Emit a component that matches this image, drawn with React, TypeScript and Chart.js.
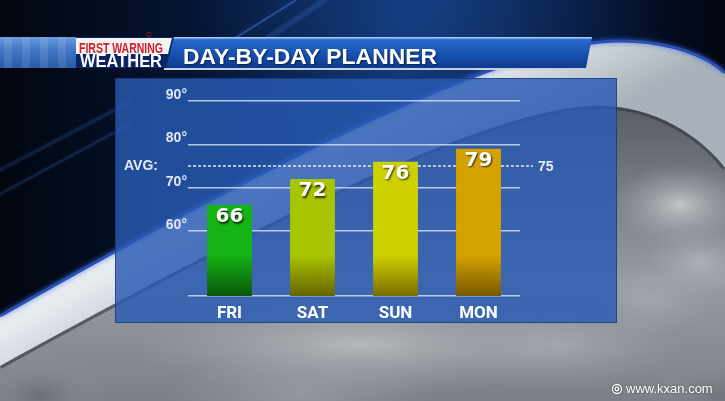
import React, { useEffect, useRef } from 'react';
import { Chart, registerables } from 'chart.js';

Chart.register(...registerables);

// ---------- data ----------
const DAYS = ['FRI', 'SAT', 'SUN', 'MON'];
const HIGHS = [66, 72, 76, 79];
const AVG_HIGH = 75;
const Y_MIN = 45;
const Y_MAX = 90;
const GRID_TICKS = [45, 60, 70, 80, 90];
const BAR_TOP_COLORS = ['#14b414', '#a9c400', '#cfd000', '#d6a200'];
const BAR_BOTTOM_COLORS = ['#0a560a', '#676400', '#7c6c00', '#785800'];
const TITLE = 'DAY-BY-DAY PLANNER';
const BRAND_TOP = 'FIRST WARNING';
const BRAND_BOTTOM = 'WEATHER';
const AVG_LABEL = 'AVG:';
const WATERMARK = 'www.kxan.com';

const W = 725;
const H = 401;
const SANS = "'Liberation Sans', Arial, sans-serif";
const NARROW = "'Liberation Sans Narrow', 'Roboto', 'Liberation Sans', Arial, sans-serif";

function fitText(ctx: CanvasRenderingContext2D, text: string, x: number, baseline: number, width: number, font: string) {
  ctx.font = font;
  const w = ctx.measureText(text).width;
  ctx.save();
  ctx.translate(x, baseline);
  ctx.scale(width / w, 1);
  ctx.textAlign = 'left';
  ctx.textBaseline = 'alphabetic';
  ctx.fillText(text, 0, 0);
  ctx.restore();
}

function outerCurve(ctx: CanvasRenderingContext2D) {
  ctx.moveTo(0, 316);
  ctx.bezierCurveTo(200, 202, 470, 55, 600, 42);
  ctx.bezierCurveTo(650, 37, 700, 50, 725, 73);
}
function innerCurve(ctx: CanvasRenderingContext2D) {
  ctx.moveTo(0, 366);
  ctx.bezierCurveTo(200, 256, 470, 112, 590, 106);
  ctx.bezierCurveTo(650, 103, 700, 135, 725, 168);
}

function puff(ctx: CanvasRenderingContext2D, x: number, y: number, r: number, color: string, sy = 0.6) {
  ctx.save();
  ctx.translate(x, y);
  ctx.scale(1, sy);
  const g = ctx.createRadialGradient(0, 0, 0, 0, 0, r);
  g.addColorStop(0, color);
  g.addColorStop(1, 'rgba(160,166,172,0)');
  ctx.fillStyle = g;
  ctx.beginPath();
  ctx.arc(0, 0, r, 0, Math.PI * 2);
  ctx.fill();
  ctx.restore();
}

function drawBackground(ctx: CanvasRenderingContext2D) {
  let g = ctx.createLinearGradient(0, 0, W, 0);
  g.addColorStop(0, '#02060f');
  g.addColorStop(0.3, '#051636');
  g.addColorStop(0.55, '#0a2858');
  g.addColorStop(0.8, '#041331');
  g.addColorStop(1, '#020610');
  ctx.fillStyle = g;
  ctx.fillRect(0, 0, W, H);
  const rg = ctx.createRadialGradient(430, 0, 0, 430, 0, 240);
  rg.addColorStop(0, 'rgba(40,100,200,0.4)');
  rg.addColorStop(1, 'rgba(40,100,200,0)');
  ctx.fillStyle = rg;
  ctx.fillRect(0, 0, W, H);

  const streak = (x1: number, y1: number, x2: number, y2: number, w: number, a: number) => {
    ctx.save();
    ctx.strokeStyle = `rgba(80,140,235,${a})`;
    ctx.lineWidth = w;
    ctx.lineCap = 'round';
    ctx.shadowColor = 'rgba(60,120,230,0.6)';
    ctx.shadowBlur = 5;
    ctx.beginPath();
    ctx.moveTo(x1, y1);
    ctx.lineTo(x2, y2);
    ctx.stroke();
    ctx.restore();
  };
  streak(200, 60, 296, 0, 1.5, 0.45);
  streak(235, 60, 325, 0, 6, 0.14);
  streak(130, 102, 0, 170, 4, 0.14);
  streak(130, 124, 0, 194, 3, 0.16);

  // silver band
  ctx.save();
  ctx.beginPath();
  outerCurve(ctx);
  ctx.lineTo(W, H);
  ctx.lineTo(0, H);
  ctx.closePath();
  g = ctx.createLinearGradient(330, 150, 380, 240);
  g.addColorStop(0, '#e6ebf0');
  g.addColorStop(1, '#a9b1ba');
  ctx.fillStyle = g;
  ctx.fill();
  ctx.restore();

  // clouds
  ctx.save();
  ctx.beginPath();
  innerCurve(ctx);
  ctx.lineTo(W, H);
  ctx.lineTo(0, H);
  ctx.closePath();
  g = ctx.createLinearGradient(0, 100, 0, H);
  g.addColorStop(0, '#565b62');
  g.addColorStop(0.6, '#979ca2');
  g.addColorStop(1, '#7b8087');
  ctx.fillStyle = g;
  ctx.fill();
  ctx.clip();
  puff(ctx, 680, 205, 70, 'rgba(212,215,219,0.8)');
  puff(ctx, 700, 262, 60, 'rgba(188,192,197,0.65)');
  puff(ctx, 650, 300, 60, 'rgba(175,180,186,0.55)');
  puff(ctx, 360, 345, 230, 'rgba(188,192,196,0.85)', 0.22);
  puff(ctx, 560, 345, 130, 'rgba(178,182,187,0.6)', 0.35);
  puff(ctx, 300, 395, 140, 'rgba(170,174,179,0.5)', 0.3);
  puff(ctx, 40, 395, 70, 'rgba(95,100,108,0.6)');
  puff(ctx, 720, 395, 80, 'rgba(100,105,112,0.45)');
  ctx.strokeStyle = 'rgba(50,55,62,0.6)';
  ctx.lineWidth = 6;
  ctx.beginPath();
  innerCurve(ctx);
  ctx.stroke();
  ctx.restore();

  ctx.save();
  ctx.beginPath();
  outerCurve(ctx);
  ctx.strokeStyle = '#2a4fb0';
  ctx.lineWidth = 3;
  ctx.shadowColor = 'rgba(60,110,230,0.9)';
  ctx.shadowBlur = 5;
  ctx.stroke();
  ctx.restore();
}

function drawHeader(ctx: CanvasRenderingContext2D) {
  const top = 37;
  const bot = 68;
  let g = ctx.createLinearGradient(0, top, 0, bot);
  g.addColorStop(0, '#6a9ade');
  g.addColorStop(0.45, '#3f74c4');
  g.addColorStop(1, '#2a5aa8');
  ctx.fillStyle = g;
  ctx.fillRect(0, top, 78, bot - top);
  ctx.fillStyle = 'rgba(255,255,255,0.1)';
  for (let x = 4; x < 76; x += 18) ctx.fillRect(x, top, 8, bot - top);

  ctx.beginPath();
  ctx.moveTo(168, top);
  ctx.lineTo(592, top);
  ctx.lineTo(586, bot);
  ctx.lineTo(164, bot);
  ctx.closePath();
  g = ctx.createLinearGradient(0, top, 0, bot);
  g.addColorStop(0, '#4d8ae0');
  g.addColorStop(0.12, '#2466c8');
  g.addColorStop(0.55, '#1852b2');
  g.addColorStop(1, '#0d3a8c');
  ctx.fillStyle = g;
  ctx.fill();
  ctx.fillStyle = 'rgba(190,215,250,0.8)';
  ctx.fillRect(168, top, 424, 1.5);
  ctx.fillStyle = '#c7d0dc';
  ctx.fillRect(164, bot, 420, 2);

  ctx.beginPath();
  ctx.moveTo(76, top);
  ctx.lineTo(174, top);
  ctx.lineTo(166, bot);
  ctx.lineTo(76, bot);
  ctx.closePath();
  ctx.fillStyle = '#0b2564';
  ctx.fill();
  ctx.beginPath();
  ctx.moveTo(76, top + 1);
  ctx.lineTo(172, top + 1);
  ctx.lineTo(168, 54);
  ctx.lineTo(76, 54);
  ctx.closePath();
  ctx.fillStyle = '#f4f4f4';
  ctx.fill();
  ctx.fillStyle = '#d11f2a';
  fitText(ctx, BRAND_TOP, 79, 52.5, 84, `bold 14px ${SANS}`);
  ctx.strokeStyle = 'rgba(209,31,42,0.8)';
  ctx.lineWidth = 1;
  ctx.beginPath();
  ctx.arc(149, 34.5, 2.2, 0.3, Math.PI * 1.9);
  ctx.stroke();
  ctx.fillStyle = '#ffffff';
  fitText(ctx, BRAND_BOTTOM, 80, 67, 82, `bold 19px ${SANS}`);

  ctx.save();
  ctx.shadowColor = 'rgba(0,10,40,0.7)';
  ctx.shadowOffsetX = 1;
  ctx.shadowOffsetY = 1;
  ctx.shadowBlur = 2;
  ctx.fillStyle = '#ffffff';
  fitText(ctx, TITLE, 183, 63.5, 254, `bold 22px ${SANS}`);
  ctx.restore();
}

function drawPanel(ctx: CanvasRenderingContext2D) {
  ctx.save();
  ctx.fillStyle = 'rgba(40,90,178,0.82)';
  ctx.fillRect(115, 78, 502, 245);
  ctx.strokeStyle = 'rgba(20,45,100,0.6)';
  ctx.lineWidth = 1;
  ctx.strokeRect(115.5, 78.5, 501, 244);
  ctx.restore();
}

const tvPlugin = {
  id: 'tvGraphic',
  beforeDraw(chart: any) {
    const ctx = chart.ctx as CanvasRenderingContext2D;
    ctx.save();
    drawBackground(ctx);
    drawHeader(ctx);
    drawPanel(ctx);
    ctx.restore();
  },
  afterDatasetsDraw(chart: any) {
    const ctx = chart.ctx as CanvasRenderingContext2D;
    const y = chart.scales.y;
    const area = chart.chartArea;
    const ay = y.getPixelForValue(AVG_HIGH);
    ctx.save();
    ctx.strokeStyle = 'rgba(235,240,250,0.95)';
    ctx.lineWidth = 1.5;
    ctx.setLineDash([3, 2]);
    const meta = chart.getDatasetMeta(0);
    const segs: [number, number][] = [];
    let start = area.left;
    meta.data.forEach((bar: any) => {
      const half = bar.width / 2;
      if (bar.y < ay) {
        segs.push([start, bar.x - half]);
        start = bar.x + half;
      }
    });
    segs.push([start, area.right + 13]);
    ctx.beginPath();
    segs.forEach(([a, b]) => {
      ctx.moveTo(a, ay);
      ctx.lineTo(b, ay);
    });
    ctx.stroke();
    ctx.setLineDash([]);
    ctx.fillStyle = '#e4ecf8';
    ctx.font = `bold 14px ${SANS}`;
    ctx.textBaseline = 'middle';
    ctx.textAlign = 'left';
    ctx.fillText(AVG_LABEL, 124, ay);
    ctx.fillText(String(AVG_HIGH), area.right + 18, ay + 1);

    ctx.shadowColor = 'rgba(0,0,0,0.75)';
    ctx.shadowOffsetX = 1;
    ctx.shadowOffsetY = 1.5;
    ctx.shadowBlur = 2;
    ctx.fillStyle = '#ffffff';
    ctx.font = `bold 20px 'DejaVu Sans', sans-serif`;
    ctx.textAlign = 'center';
    meta.data.forEach((bar: any, i: number) => {
      ctx.fillText(String(HIGHS[i]), bar.x, bar.y + 12);
    });
    ctx.restore();

    ctx.save();
    ctx.fillStyle = '#ffffff';
    ctx.shadowColor = 'rgba(0,0,0,0.5)';
    ctx.shadowBlur = 2;
    ctx.font = `13px ${SANS}`;
    ctx.textBaseline = 'middle';
    ctx.textAlign = 'left';
    ctx.fillText(WATERMARK, 626, 389);
    ctx.strokeStyle = '#ffffff';
    ctx.lineWidth = 1.3;
    ctx.beginPath();
    ctx.arc(617, 389, 4.5, 0, Math.PI * 2);
    ctx.stroke();
    ctx.beginPath();
    ctx.arc(617, 389, 1.8, 0, Math.PI * 2);
    ctx.stroke();
    ctx.restore();
  },
};

export default function App() {
  const ref = useRef<HTMLCanvasElement | null>(null);
  useEffect(() => {
    document.body.style.margin = '0';
    const canvas = ref.current;
    if (!canvas) return;
    const chart = new Chart(canvas, {
      type: 'bar',
      data: {
        labels: DAYS,
        datasets: [
          {
            data: HIGHS,
            barPercentage: 0.54,
            categoryPercentage: 1,
            borderWidth: 0,
            backgroundColor: (c: any) => {
              const chart = c.chart;
              const area = chart.chartArea;
              const i = c.dataIndex;
              if (!area || i === undefined) return BAR_TOP_COLORS[0];
              const y0 = chart.scales.y.getPixelForValue(54.5);
              const g = chart.ctx.createLinearGradient(0, y0, 0, area.bottom);
              g.addColorStop(0, BAR_TOP_COLORS[i]);
              g.addColorStop(1, BAR_BOTTOM_COLORS[i]);
              return g;
            },
          },
        ],
      },
      options: {
        animation: false,
        responsive: false,
        maintainAspectRatio: false,
        devicePixelRatio: 1,
        layout: { padding: { top: 101, right: 205, left: 0, bottom: 0 } },
        plugins: { legend: { display: false }, tooltip: { enabled: false } },
        scales: {
          x: {
            grid: { display: false, drawTicks: false },
            border: { display: false },
            ticks: {
              color: '#ffffff',
              font: { family: NARROW, weight: 'bold', size: 17 },
              padding: 8,
            },
            afterFit: (s: any) => {
              s.height = 105;
            },
          },
          y: {
            min: Y_MIN,
            max: Y_MAX,
            afterBuildTicks: (s: any) => {
              s.ticks = GRID_TICKS.map((v) => ({ value: v }));
            },
            grid: { color: 'rgba(205,222,245,0.85)', lineWidth: 1.5, drawTicks: false },
            border: { display: false },
            ticks: {
              color: '#dfe8f5',
              font: { family: SANS, weight: 'bold', size: 14 },
              padding: 1,
              labelOffset: -6,
              callback: (v: any) => (v === Y_MIN ? '' : `${v}°`),
            },
            afterFit: (s: any) => {
              s.width = 188;
            },
          },
        },
      },
      plugins: [tvPlugin],
    });
    return () => chart.destroy();
  }, []);
  return (
    <div style={{ width: W, height: H }}>
      <canvas ref={ref} width={W} height={H} style={{ display: 'block' }} />
    </div>
  );
}
